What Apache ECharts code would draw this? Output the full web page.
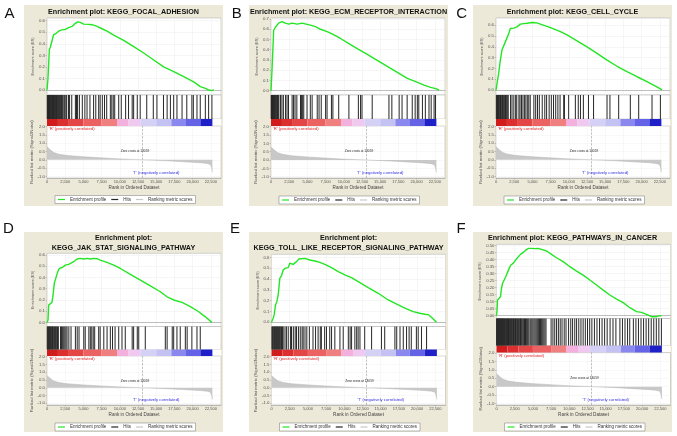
<!DOCTYPE html>
<html><head><meta charset="utf-8">
<script src="https://cdn.jsdelivr.net/npm/echarts@6/dist/echarts.min.js"></script>
<style>html,body{margin:0;padding:0;background:#fff}#c{width:677px;height:436px}</style>
</head><body><div id="c"></div>
<script>
// ---------------- DATA ----------------
const panelLabels = ['A','B','C','D','E','F'];
const titleLines = [
  ['Enrichment plot: KEGG_FOCAL_ADHESION'],
  ['Enrichment plot: KEGG_ECM_RECEPTOR_INTERACTION'],
  ['Enrichment plot: KEGG_CELL_CYCLE'],
  ['Enrichment plot:', 'KEGG_JAK_STAT_SIGNALING_PATHWAY'],
  ['Enrichment plot:', 'KEGG_TOLL_LIKE_RECEPTOR_SIGNALING_PATHWAY'],
  ['Enrichment plot: KEGG_PATHWAYS_IN_CANCER']
];
const xTicks = [0,2500,5000,7500,10000,12500,15000,17500,20000,22500];
const rankedTicks = [-1,-0.5,0,0.5,1,1.5,2];
const esTicks6 = [0,0.1,0.2,0.3,0.4,0.5,0.6];
const esTicks7 = [0,0.1,0.2,0.3,0.4,0.5,0.6,0.7];
const esTicksF = [0,0.05,0.1,0.15,0.2,0.25,0.3,0.35,0.4,0.45,0.5];
const zeroCross = 13059;

const esA = [[0,0],[137,0.1],[320,0.35],[458,0.37],[916,0.48],[1282,0.49],[1603,0.51],[2061,0.52],[2519,0.525],[2977,0.54],[3435,0.55],[3756,0.57],[4214,0.59],[4580,0.585],[5038,0.57],[5725,0.568],[6183,0.565],[6870,0.55],[7557,0.53],[8244,0.51],[9160,0.475],[10534,0.43],[11908,0.375],[13282,0.32],[14656,0.26],[16030,0.2],[17404,0.16],[18778,0.115],[20152,0.07],[21068,0.03],[21755,0.015],[22213,0.0],[22671,-0.005],[22900,0.003]];
const esB = [[0,0],[138,0.2],[367,0.59],[597,0.62],[1056,0.66],[1515,0.675],[1974,0.66],[2433,0.65],[2892,0.66],[3580,0.65],[4269,0.66],[4957,0.648],[5416,0.64],[6105,0.625],[6793,0.6],[7711,0.577],[8400,0.554],[9547,0.51],[10695,0.46],[11842,0.41],[12990,0.365],[14137,0.316],[15285,0.267],[16432,0.218],[17580,0.17],[18727,0.12],[19875,0.088],[21022,0.055],[21940,0.033],[22629,0.02],[23088,0.007]];
const esC = [[0,0],[46,0.01],[366,0.154],[595,0.277],[824,0.37],[1053,0.385],[1282,0.446],[1511,0.446],[1740,0.52],[1969,0.57],[2427,0.573],[2885,0.585],[3343,0.61],[3801,0.615],[4259,0.618],[4946,0.625],[5633,0.622],[6091,0.61],[7007,0.59],[7923,0.566],[8839,0.54],[9755,0.51],[11129,0.455],[12503,0.4],[13877,0.34],[15251,0.277],[16625,0.22],[17999,0.17],[19373,0.123],[20747,0.077],[21892,0.037],[22579,0.01],[22808,0]];
const esD = [[0,0],[137,0.02],[229,0.154],[458,0.16],[687,0.18],[824,0.24],[1008,0.35],[1282,0.36],[1466,0.45],[1695,0.48],[2061,0.487],[2290,0.5],[2519,0.51],[2977,0.516],[3206,0.525],[3664,0.54],[4122,0.564],[4580,0.57],[5038,0.564],[5496,0.57],[5954,0.564],[6412,0.57],[6870,0.567],[7328,0.555],[8244,0.534],[9160,0.51],[10076,0.48],[11450,0.427],[12824,0.377],[14198,0.326],[15572,0.273],[16488,0.228],[17404,0.2],[18549,0.178],[19694,0.14],[20839,0.095],[21755,0.05],[22442,0.012],[22671,0]];
const esE = [[0,0],[92,0.0],[229,0.037],[366,0.068],[550,0.16],[733,0.19],[916,0.25],[1145,0.406],[1374,0.43],[1603,0.483],[1924,0.5],[2290,0.505],[2519,0.545],[2977,0.535],[3435,0.56],[3756,0.585],[4030,0.597],[4580,0.59],[5267,0.575],[5954,0.566],[6641,0.554],[7328,0.535],[8244,0.505],[9160,0.468],[10076,0.437],[10992,0.412],[11908,0.375],[13282,0.32],[14656,0.268],[16030,0.206],[17404,0.16],[18549,0.123],[19465,0.098],[20381,0.083],[21068,0.074],[21618,0.068],[22213,0.031],[22671,0]];
const esF = [[0,0],[92,0.05],[137,0.112],[321,0.124],[550,0.136],[687,0.195],[824,0.23],[1053,0.255],[1282,0.28],[1511,0.28],[1740,0.338],[1969,0.362],[2290,0.374],[2656,0.4],[2977,0.42],[3298,0.438],[3664,0.452],[4030,0.469],[4397,0.481],[4809,0.481],[5267,0.479],[5725,0.481],[6183,0.474],[6870,0.462],[7557,0.438],[8244,0.414],[9160,0.386],[10076,0.35],[10992,0.319],[11908,0.29],[12824,0.255],[13740,0.219],[14656,0.183],[15572,0.148],[16488,0.119],[17404,0.093],[18320,0.057],[19236,0.029],[19923,0.024],[20610,0.01],[21297,-0.007],[21984,-0.007],[22442,0],[22671,0]];

const hitsA = [40,90,150,210,260,330,380,450,520,600,680,760,820,900,980,1050,1150,1230,1300,1420,1500,1600,1700,1790,1880,2000,2100,2200,2350,2450,2600,2700,2950,3100,3400,3900,4050,4200,4450,4850,5200,5500,5900,6400,6700,7100,7300,7600,7900,8200,8700,8900,9100,9300,9850,10200,10800,11200,11700,11900,12400,12800,13700,14600,15100,16000,16500,16950,17400,17850,18550,19200,19900,20100,20600,21050,21750,22200,22650];
const hitsB = [30,80,140,200,260,330,400,470,560,640,720,800,900,1000,1080,1300,1500,1700,2000,2200,2400,2900,3100,3300,3550,4050,4200,4350,4500,4950,5400,5650,6350,6600,6900,7500,7700,8300,8500,9300,10700,12000,12300,12500,13900,16200,16600,17600,18000,18700,19400,19800,20100,20300,20800,21200,21700,22000,22400,22600];
const hitsC = [50,120,200,280,360,450,540,620,700,800,900,1000,1100,1200,1300,1420,1550,1680,2000,2200,2450,2700,2850,3150,3300,3500,3700,3900,4100,4300,4500,4700,5200,5450,5700,5950,6350,6700,6950,7300,7600,7900,8200,8500,8800,9300,9400,9980,10900,11300,11600,12000,12700,13400,15250,15650,16850,18450,19600,21430,22580];
const hitsD = [40,110,180,250,330,420,500,590,680,760,850,950,1050,1150,1250,1350,1450,1560,1850,2000,2150,2300,2450,2600,2750,3000,3300,3900,4150,4400,5050,5250,5750,5950,6150,6350,6550,7100,7300,7800,8250,8700,9000,9350,9850,10300,10750,11700,11900,12400,12600,13500,16250,16500,17200,17400,17850,18300,19000,19250,19900,20600,21050];
const hitsE = [60,150,250,350,430,520,600,700,800,880,980,1080,1180,1280,1380,1500,1600,1850,2050,2300,2600,2750,3000,3250,3430,3700,3950,4200,4350,4600,4850,5200,5700,6050,6400,6700,6850,7300,7550,8000,8250,8700,9400,9850,10550,10800,11000,11450,11700,11900,12150,12800,13750,15100,15550,16950,17200,17650,18100,18550,18900,19200,19900,20150,20600,21300];
const hitsF = [20,70,120,190,250,310,380,440,500,570,640,700,770,840,900,980,1050,1120,1200,1280,1350,1430,1500,1580,1650,1740,1820,1900,1990,2080,2160,2250,2340,2430,2520,2610,2700,2800,2900,3000,3100,3200,3300,3400,3500,3620,3740,3850,3980,4100,4230,4350,4480,4700,4850,5000,5150,5300,5450,5600,5750,5900,6050,6200,6350,6500,6650,6800,7500,7750,8000,8250,8500,8750,9000,9300,9550,9900,10200,10450,10750,11000,11300,11600,11900,12200,12500,12800,13100,13450,13800,14150,14500,14850,15200,15600,16000,16400,16950,17300,17650,18000,18300,18800,19150,19500,19850,20200,20550,20900,21250,21600,21950,22300,22650];

const rankedMetric = [[0,0.78],[137,0.76],[458,0.6],[916,0.44],[1603,0.34],[2748,0.26],[5038,0.18],[7328,0.12],[9618,0.06],[11908,0.02],[13059,0],[14198,-0.02],[16488,-0.06],[18778,-0.12],[21068,-0.18],[21984,-0.22],[22442,-0.28],[22625,-0.5],[22717,-0.75]];
const colorBarBounds = [0,1500,3000,5000,7500,9618,11200,12824,15000,17083,19000,21068,22717];

const esSeries = [esA,esB,esC,esD,esE,esF];
const hitSeries = [hitsA,hitsB,hitsC,hitsD,hitsE,hitsF];
const esTickSets = [esTicks6,esTicks7,esTicks6,esTicks6,esTicks6,esTicksF];

// ---------------- STYLE / LAYOUT ----------------
const cbColors = ['#d01c1c','#dc3030','#e44646','#ec6262','#f08080','#f4b0dc','#f0c8f0','#d4d0f6','#c4c2f2','#8a88ee','#6462e6','#2020c8'];
const XMAX = 23900;
const FONT = 'Liberation Sans, Arial, sans-serif';
const P = [
 {L:47,   W:174, box:[24,5,199,201],   lab:[9.5,13.5],  tl:[[123.5,11.7]], es:[18,77,-0.043,0.623], hi:[95,24], cb:[119,7], rk:[126,52,-1.10,2.04], lg:195.5},
 {L:271,  W:174, box:[249,5,199,201],  lab:[236.7,13.5],tl:[[348.5,11.7]], es:[18,77,-0.042,0.71],  hi:[95,24], cb:[119,7], rk:[126,52,-1.08,2.04], lg:196},
 {L:496,  W:174, box:[473,5,199,201],  lab:[461.7,13.5],tl:[[572.5,11.7]], es:[18,77,-0.046,0.667], hi:[95,24], cb:[119,7], rk:[126,52,-1.10,2.04], lg:196},
 {L:47,   W:174, box:[24,232,199,200], lab:[8.3,229],   tl:[[123.5,237.7],[123.5,248.3]], es:[253.3,73.2,-0.036,0.615], hi:[326.5,23], cb:[349.5,6.5], rk:[356,49,-1.11,2.045], lg:423},
 {L:271.5,W:174, box:[249,232,199,200],lab:[235,229],   tl:[[348.5,237.7],[348.5,248.3]], es:[254.3,72.2,-0.039,0.628], hi:[326.5,23], cb:[349.5,6.5], rk:[356,49,-1.11,2.045], lg:423},
 {L:496.5,W:174, box:[473,232,199,200],lab:[461,229],   tl:[[572.5,238.3]], es:[244.3,74.2,-0.02,0.51], hi:[318.5,27], cb:[345.5,7], rk:[352.5,52.5,-1.10,2.048], lg:423}
];

const grids = [], xAxes = [], yAxes = [], series = [], legends = [], graphics = [];
const hidden = {show:false};
const fmtX = v => v === 0 ? '0' : Number(v).toLocaleString('en-US');

P.forEach((p, i) => {
  const gBase = {left:p.L, width:p.W, show:true, backgroundColor:'#fff', borderColor:'#a8a8a8', borderWidth:0.5, containLabel:false, outerBoundsMode:'none'};
  grids.push(Object.assign({}, gBase, {top:p.es[0], height:p.es[1]}));
  grids.push(Object.assign({}, gBase, {top:p.hi[0], height:p.hi[1]}));
  grids.push(Object.assign({}, gBase, {top:p.cb[0], height:p.cb[1], borderWidth:0}));
  grids.push(Object.assign({}, gBase, {top:p.rk[0], height:p.rk[1]}));
  const g = i*4;
  xAxes.push({gridIndex:g, type:'value', min:0, max:XMAX, interval:2500,
    axisLabel:hidden, axisTick:hidden,
    axisLine:{show:true, onZero:true, lineStyle:{color:'#999', width:0.6}},
    splitLine:{show:true, lineStyle:{color:'#ececec', width:0.5}}});
  const et = esTickSets[i];
  const dec = i === 5 ? 2 : 1;
  yAxes.push({gridIndex:g, type:'value', min:p.es[2], max:p.es[3],
    axisLabel:{customValues:et, fontSize:4.3, color:'#555', margin:2, fontFamily:FONT, formatter:v=>Number(v).toFixed(dec)},
    axisTick:{show:true, customValues:et, length:1.5, lineStyle:{color:'#999', width:0.5}},
    axisLine:hidden,
    splitLine:{show:true, lineStyle:{color:'#ececec', width:0.5}},
    name:'Enrichment score (ES)', nameLocation:'middle', nameGap:11,
    nameTextStyle:{fontSize:3.8, color:'#555', fontFamily:FONT}});
  xAxes.push({gridIndex:g+1, type:'value', min:0, max:XMAX, show:false});
  yAxes.push({gridIndex:g+1, type:'value', min:0, max:1, show:false});
  xAxes.push({gridIndex:g+2, type:'value', min:0, max:XMAX, show:false});
  yAxes.push({gridIndex:g+2, type:'value', min:0, max:1, show:false});
  xAxes.push({gridIndex:g+3, type:'value', min:0, max:XMAX,
    axisLabel:{customValues:xTicks, fontSize:4, color:'#555', margin:2, fontFamily:FONT, formatter:fmtX},
    axisTick:{show:true, customValues:xTicks, length:1.5, lineStyle:{color:'#999', width:0.5}},
    axisLine:{show:true, onZero:false, lineStyle:{color:'#999', width:0.5}},
    splitLine:{show:true, lineStyle:{color:'#f0f0f0', width:0.5}},
    name:'Rank in Ordered Dataset', nameLocation:'middle', nameGap:7.5,
    nameTextStyle:{fontSize:4.6, color:'#444', fontFamily:FONT}});
  yAxes.push({gridIndex:g+3, type:'value', min:p.rk[2], max:p.rk[3],
    axisLabel:{customValues:rankedTicks, fontSize:4.3, color:'#555', margin:2, fontFamily:FONT, formatter:v=>Number(v).toFixed(1)},
    axisTick:{show:true, customValues:rankedTicks, length:1.5, lineStyle:{color:'#999', width:0.5}},
    axisLine:hidden,
    splitLine:{show:true, lineStyle:{color:'#f0f0f0', width:0.5}},
    name:'Ranked list metric (Signal2Noise)', nameLocation:'middle', nameGap:11,
    nameTextStyle:{fontSize:4.3, color:'#555', fontFamily:FONT}});

  series.push({name:'Enrichment profile', type:'line', xAxisIndex:g, yAxisIndex:g,
    data:esSeries[i], showSymbol:false, symbol:'none', z:5,
    lineStyle:{color:'#22e622', width:1.4}, itemStyle:{color:'#22e622'}});
  series.push({name:'Hits', type:'bar', xAxisIndex:g+1, yAxisIndex:g+1,
    data:hitSeries[i].map(r => [r, 1]), barWidth:0.75,
    itemStyle:{color:'#262626'}});
  series.push({name:'colorbar', type:'custom', xAxisIndex:g+2, yAxisIndex:g+2,
    data:colorBarBounds.slice(0, -1).map((b, k) => [b, colorBarBounds[k+1]]),
    encode:{x:[0,1]},
    renderItem:(params, api) => {
      const s = api.coord([api.value(0), 1]);
      const e = api.coord([api.value(1), 0]);
      return {type:'rect', shape:{x:s[0], y:s[1], width:e[0]-s[0], height:e[1]-s[1]},
              style:{fill:cbColors[params.dataIndex]}};
    }});
  series.push({name:'Ranking metric scores', type:'line', xAxisIndex:g+3, yAxisIndex:g+3,
    data:rankedMetric, showSymbol:false, symbol:'none',
    lineStyle:{color:'#b4b4b4', width:0.5}, itemStyle:{color:'#c8c8c8'},
    areaStyle:{color:'#c8c8c8', opacity:1, origin:0},
    markLine:{silent:true, symbol:'none', label:{show:false},
      lineStyle:{color:'#999', type:'dashed', width:0.6},
      data:[{xAxis:zeroCross}]}});

  legends.push({left:p.L+8, top:p.lg, orient:'horizontal', selectedMode:false,
    data:['Enrichment profile','Hits','Ranking metric scores'],
    icon:'rect', itemWidth:7, itemHeight:1.2, itemGap:5, padding:[1.5,3],
    borderColor:'#777', borderWidth:0.5, backgroundColor:'#fff',
    textStyle:{fontSize:4.5, color:'#333', fontFamily:FONT}});

  graphics.push({type:'rect', z:-10, shape:{x:p.box[0], y:p.box[1], width:p.box[2], height:p.box[3]}, style:{fill:'#ece9d8'}});
  graphics.push({type:'text', z:50, x:p.lab[0], y:p.lab[1], style:{text:panelLabels[i], font:'15px ' + FONT, fill:'#111', align:'center', verticalAlign:'middle', textAlign:'center', textVerticalAlign:'middle'}});
  p.tl.forEach((t, k) => {
    graphics.push({type:'text', z:50, x:t[0], y:t[1], style:{text:titleLines[i][k], font:'bold 7.2px ' + FONT, fill:'#111', align:'center', verticalAlign:'middle', textAlign:'center', textVerticalAlign:'middle'}});
  });
  const rkTop = p.rk[0], rkBot = p.rk[0] + p.rk[1];
  graphics.push({type:'text', z:50, x:p.L+2, y:rkTop+3, style:{text:"'R' (positively correlated)", font:'4.2px ' + FONT, fill:'#e02020', align:'left', verticalAlign:'middle', textAlign:'left', textVerticalAlign:'middle'}});
  graphics.push({type:'text', z:50, x:p.L+88, y:rkTop+25.5, style:{text:'Zero cross at ' + zeroCross, font:'3.2px ' + FONT, fill:'#222', align:'center', verticalAlign:'middle', textAlign:'center', textVerticalAlign:'middle'}});
  graphics.push({type:'text', z:50, x:p.L+109, y:rkBot-5, style:{text:"'T' (negatively correlated)", font:'4.2px ' + FONT, fill:'#3030e0', align:'center', verticalAlign:'middle', textAlign:'center', textVerticalAlign:'middle'}});
});

const chart = echarts.init(document.getElementById('c'), null, {renderer:'canvas'});
chart.setOption({
  animation:false,
  backgroundColor:'#fff',
  textStyle:{fontFamily:FONT},
  grid:grids, xAxis:xAxes, yAxis:yAxes, series:series, legend:legends,
  graphic:{elements:graphics}
});
</script>
</body></html>
